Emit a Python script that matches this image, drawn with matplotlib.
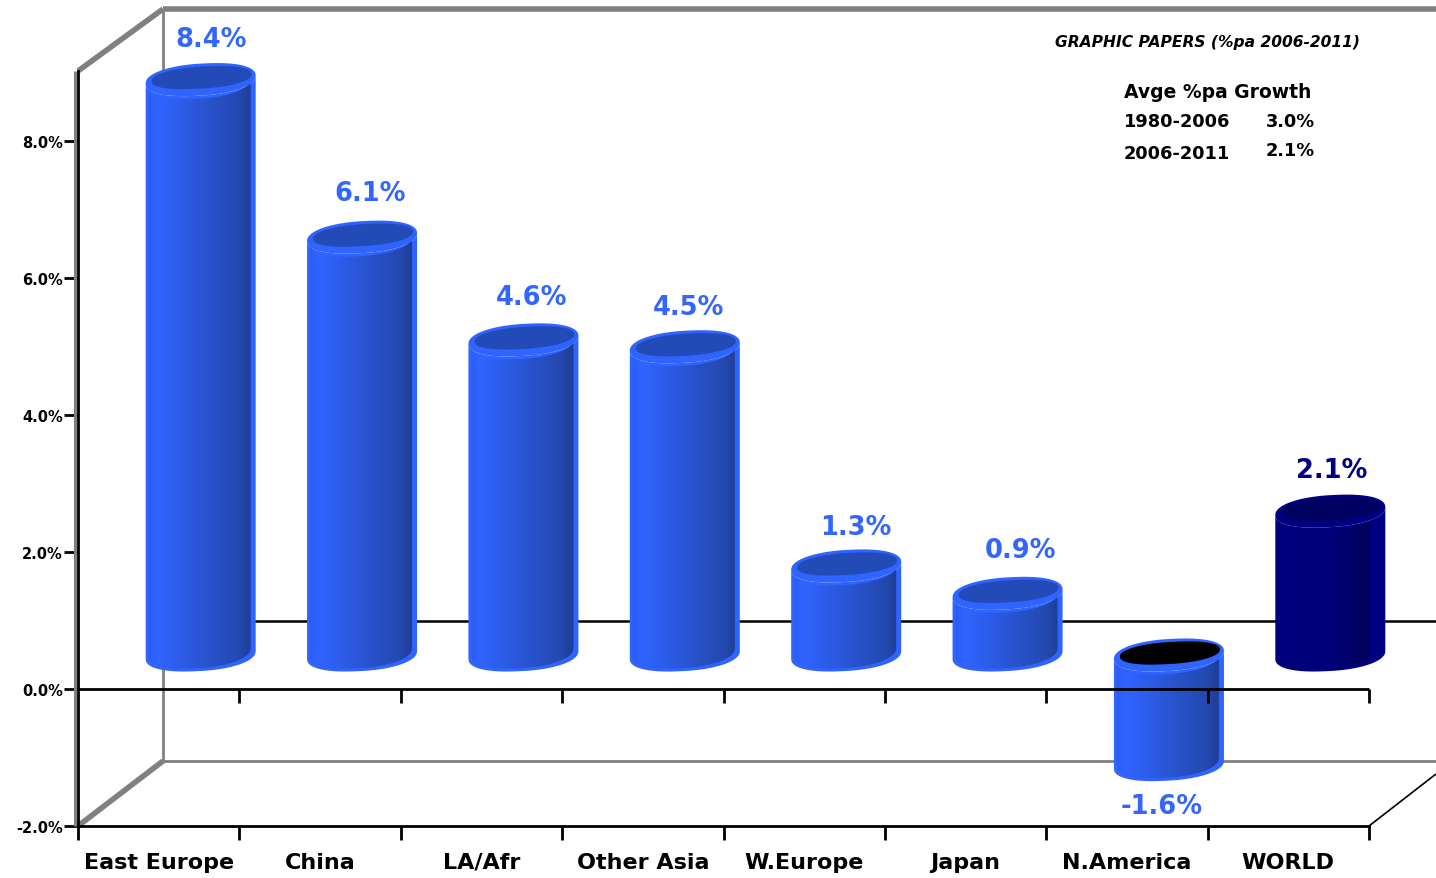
import numpy as np
import matplotlib
matplotlib.use("Agg")
import matplotlib.pyplot as plt
from matplotlib.patches import Polygon
from matplotlib.colors import LinearSegmentedColormap

categories = ["East Europe", "China", "LA/Afr", "Other Asia", "W.Europe", "Japan", "N.America", "WORLD"]
growth = [8.4, 6.1, 4.6, 4.5, 1.3, 0.9, -1.6, 2.1]
y_ticks = [-2, 0, 2, 4, 6, 8]
table_rows = [("1980-2006", "3.0%"), ("2006-2011", "2.1%")]

W, H = 1436, 879
# plot box in pixels
L, R, T, B = 78, 1369, 72, 827
PX_X = (R - L) / 8
PX_Y = (B - 690) / 2

BLUE = "#2f64ff"
NAVY = "#000080"
GRAY = "#808080"

plt.rcParams["font.family"] = "DejaVu Sans"
plt.rcParams["font.weight"] = "bold"

fig = plt.figure(figsize=(W / 100, H / 100), dpi=100)
ax = fig.add_axes([L / W, 1 - B / H, (R - L) / W, (B - T) / H])
ax.set_xlim(0, 8)
ax.set_ylim(-2, (690 - T) / PX_Y)
ax.patch.set_alpha(0)


def dx(px):
    return px / PX_X


def dy(px):
    return px / PX_Y


def back_line(x, y, color=GRAY, lw=2.2, z=1):
    ax.plot(x, y, color=color, lw=lw, clip_on=False, zorder=z, solid_capstyle="butt")


# walls
depth_x, depth_y = dx(85), dy(65)
x_end = dx(W - L)
y_top = ax.get_ylim()[1]
back_line([depth_x, depth_x], [-2 + depth_y, y_top + dy(62)], lw=2)
back_line([depth_x, x_end], [-2 + depth_y, -2 + depth_y], lw=2)
back_line([depth_x, x_end], [y_top + dy(62)] * 2, lw=4)
back_line([0, depth_x], [-2, -2 + depth_y], lw=4)
back_line([0, depth_x], [y_top, y_top + dy(62)], lw=4)
back_line([dx(-2.8), dx(-2.8)], [-2, y_top], lw=2.2, z=4)
back_line([depth_x, x_end], [dy(68), dy(68)], color="black", lw=1.8)
back_line([8, 8 + dx(67)], [-2, -2 + dy(52)], color="black", lw=1.2)


def rim(cx, cy, a, b, shear, t):
    # slightly squared ellipse, tilted up to the right
    c, s = np.cos(t), np.sin(t)
    c2 = np.sign(c) * np.abs(c) ** 0.9
    s2 = np.sign(s) * np.abs(s) ** 0.9
    return np.column_stack([cx + a * c2, cy + b * s2 + shear * c])


lower = np.linspace(np.pi, 2 * np.pi, 60)
full = np.linspace(0, 2 * np.pi, 120)
label_nudge = [(10, 41), (8, 44), (8, 43), (4, 40), (10, 39), (13, 43), (-7, -41), (1, 41)]

for i, (name, val) in enumerate(zip(categories, growth)):
    cx = i + 0.5 + dx(42)
    base = dy(34)
    top = base + max(val, 0)
    bottom = base + min(val, 0)
    world = name == "WORLD"
    edge = NAVY if world else BLUE
    a, b, shear = dx(55), dy(16), dy(4)

    # silhouette, then the shaded side inside it
    low = rim(cx, bottom, a, b, shear, lower)
    up = rim(cx, top, a, b, shear, lower)[::-1]
    ax.add_patch(Polygon(np.vstack([low, up]), closed=True, fc=edge, ec="none", zorder=3, clip_on=False))

    low_in = rim(cx - dx(1), bottom + dy(3), a - dx(4), b, shear, lower)
    up_in = rim(cx - dx(1), top - dy(3), a - dx(4), b, shear, lower)[::-1]
    face = Polygon(np.vstack([low_in, up_in]), closed=True, fc="none", ec="none", zorder=3, clip_on=False)
    ax.add_patch(face)
    if world:
        cmap = LinearSegmentedColormap.from_list("w", [NAVY, "#000078", "#000050"])
    else:
        cmap = LinearSegmentedColormap.from_list(
            "b", [(0, "#2a5cee"), (0.1, BLUE), (0.5, "#2a55d4"), (0.85, "#2349b0"), (1, "#1e3a8c")])
    img = ax.imshow(np.linspace(0, 1, 64).reshape(1, -1), cmap=cmap, aspect="auto",
                    extent=(cx - a, cx + a, bottom - b - dy(4), top + b + dy(4)), zorder=3.1)
    img.set_clip_path(face)

    # top of the cylinder
    ax.add_patch(Polygon(rim(cx, top, a, b, shear, full), closed=True, fc=edge, ec="none",
                         zorder=3.2, clip_on=False))
    if val < 0:
        inner = "black"
    elif world:
        inner = "#000060"
    else:
        inner = "#234bb8"
    ax.add_patch(Polygon(rim(cx + dx(1), top + dy(2), a - dx(5), b - dy(5), shear * 0.9, full),
                         closed=True, fc=inner, ec="none", zorder=3.3, clip_on=False))

    nx, ny = label_nudge[i]
    anchor = top if val >= 0 else bottom
    ax.annotate(f"{val:.1f}%", (cx, anchor), xytext=(nx * 0.72, ny * 0.72),
                textcoords="offset points", ha="center", va="center",
                fontsize=18.5, color=NAVY if world else "#3366ff", zorder=5,
                annotation_clip=False)

# front axes
for side in ["top", "right"]:
    ax.spines[side].set_visible(False)
for side in ["left", "bottom"]:
    ax.spines[side].set_linewidth(2)
    ax.spines[side].set_zorder(4)
ax.set_yticks(y_ticks)
ax.set_yticklabels([f"{v:.1f}%" for v in y_ticks], fontsize=10.5)
ax.tick_params(axis="y", length=10, width=2, pad=1)
ax.set_xticks(range(9))
ax.set_xticklabels([])
ax.tick_params(axis="x", which="major", length=10, width=2, direction="out")
ax.set_xticks(np.arange(8) + 0.5, minor=True)
ax.set_xticklabels(categories, minor=True, fontsize=16, va="baseline")
ax.tick_params(axis="x", which="minor", length=0, pad=30)

ax.plot([0, 8], [0, 0], color="black", lw=2, zorder=4, solid_capstyle="butt", clip_on=False)
ax.vlines(range(1, 9), dy(-14), 0, color="black", lw=2, zorder=4, clip_on=False)


def px_text(x, y, s, **kw):
    fig.text(x / W, 1 - y / H, s, va="center", **kw)


px_text(1055, 42, "GRAPHIC PAPERS (%pa 2006-2011)", fontsize=11.2, style="italic")
px_text(1124, 93, "Avge %pa Growth", fontsize=13.5)
px_text(1124, 122, table_rows[0][0], fontsize=12.8)
px_text(1315, 122, table_rows[0][1], fontsize=12.8, ha="right")
px_text(1124, 154, table_rows[1][0], fontsize=12.8)
px_text(1315, 151, table_rows[1][1], fontsize=12.8, ha="right")

ax.set_xlim(0, 8)
ax.set_ylim(-2, (690 - T) / PX_Y)
fig.savefig("out.png", dpi=100)
